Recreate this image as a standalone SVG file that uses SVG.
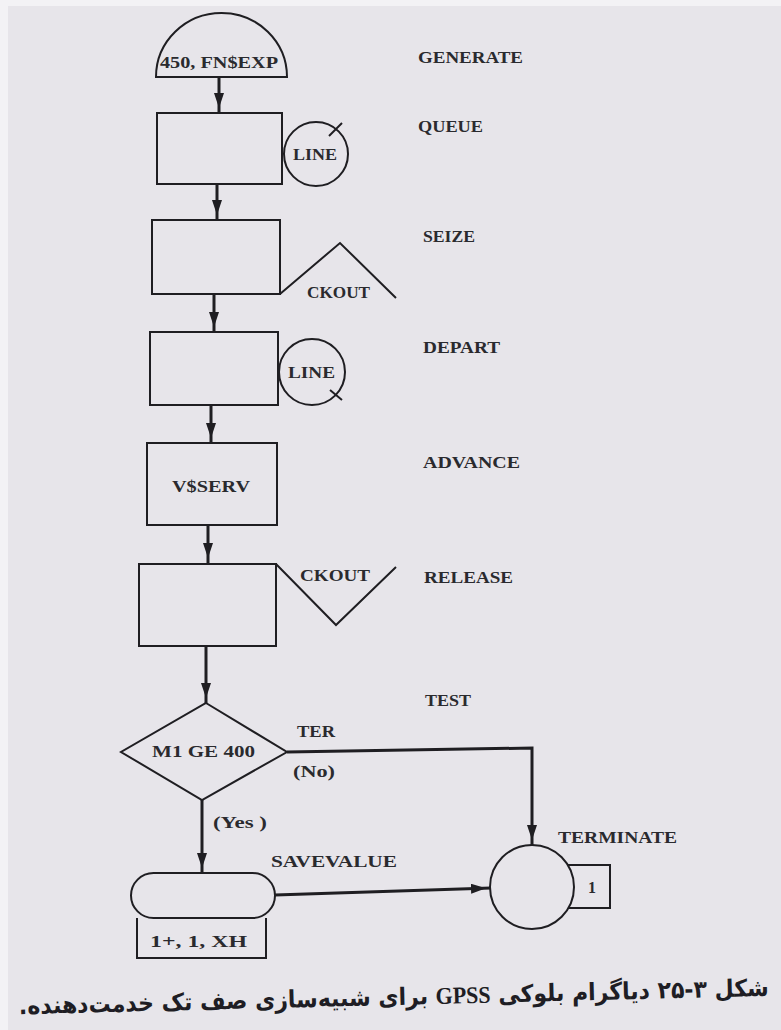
<svg xmlns="http://www.w3.org/2000/svg" width="781" height="1030" viewBox="0 0 781 1030">
<defs>
<style>
.sh{fill:none;stroke:#1f1e22;stroke-width:2}
.cn{fill:none;stroke:#1f1e22;stroke-width:3}
.lb{font-family:"Liberation Serif",serif;font-weight:bold;font-size:17px;fill:#2a2a2e}
.in{font-family:"Liberation Serif",serif;font-weight:bold;font-size:16px;fill:#2a2a2e}
.cap{font-family:"DejaVu Sans",sans-serif;font-weight:bold;font-size:24px;fill:#1e1d24}
</style>
<marker id="ah" markerUnits="userSpaceOnUse" markerWidth="24" markerHeight="12" refX="20" refY="5" orient="auto">
<path d="M0,0 L15,5 L0,10 z" fill="#1f1e22"/>
</marker>
</defs>
<rect x="0" y="0" width="781" height="1030" fill="#f3f2f5"/>
<rect x="8" y="6" width="773" height="1024" fill="#e7e5ea"/>

<g id="connectors">
<path class="cn" d="M219,77 V113" marker-end="url(#ah)"/>
<path class="cn" d="M217,184 V220" marker-end="url(#ah)"/>
<path class="cn" d="M214,294 V332" marker-end="url(#ah)"/>
<path class="cn" d="M211,405 V443" marker-end="url(#ah)"/>
<path class="cn" d="M208,525 V563" marker-end="url(#ah)"/>
<path class="cn" d="M206,646 V703" marker-end="url(#ah)"/>
<path class="cn" d="M287,752 L532,748 V845" marker-end="url(#ah)"/>
<path class="cn" d="M202,800 V873" marker-end="url(#ah)"/>
<path class="cn" d="M275,895 L491,888" marker-end="url(#ah)"/>
<text class="lb" x="297" y="737" textLength="38" lengthAdjust="spacingAndGlyphs">TER</text>
<text class="lb" x="293" y="777" textLength="42" lengthAdjust="spacingAndGlyphs">(No)</text>
<text class="lb" x="213" y="828" textLength="54" lengthAdjust="spacingAndGlyphs">(Yes )</text>
</g>

<g id="generate">
<path class="sh" d="M156,77 A65.5,64 0 0 1 287,77 Z"/>
<text class="in" x="160" y="68" textLength="118" lengthAdjust="spacingAndGlyphs">450, FN$EXP</text>
<text class="lb" x="418" y="63" textLength="105" lengthAdjust="spacingAndGlyphs">GENERATE</text>
</g>

<g id="queue">
<rect class="sh" x="157" y="113" width="125" height="71"/>
<circle class="sh" cx="316" cy="154" r="32"/>
<path class="sh" d="M329,136 L342,123"/>
<text class="in" x="293" y="160" textLength="44" lengthAdjust="spacingAndGlyphs">LINE</text>
<text class="lb" x="418" y="132" textLength="65" lengthAdjust="spacingAndGlyphs">QUEUE</text>
</g>

<g id="seize">
<rect class="sh" x="152" y="220" width="128" height="74"/>
<path class="sh" d="M280,294 L340,243 L396,298"/>
<text class="in" x="307" y="298" textLength="63" lengthAdjust="spacingAndGlyphs">CKOUT</text>
<text class="lb" x="423" y="242" textLength="52" lengthAdjust="spacingAndGlyphs">SEIZE</text>
</g>

<g id="depart">
<rect class="sh" x="150" y="332" width="128" height="73"/>
<circle class="sh" cx="312" cy="372" r="33"/>
<path class="sh" d="M330,390 L342,400"/>
<text class="in" x="288" y="378" textLength="47" lengthAdjust="spacingAndGlyphs">LINE</text>
<text class="lb" x="423" y="353" textLength="77" lengthAdjust="spacingAndGlyphs">DEPART</text>
</g>

<g id="advance">
<rect class="sh" x="147" y="443" width="130" height="82"/>
<text class="in" x="172" y="492" textLength="78" lengthAdjust="spacingAndGlyphs">V$SERV</text>
<text class="lb" x="423" y="468" textLength="97" lengthAdjust="spacingAndGlyphs">ADVANCE</text>
</g>

<g id="release">
<rect class="sh" x="139" y="564" width="137" height="82"/>
<path class="sh" d="M276,564 L336,625 L396,567"/>
<text class="in" x="300" y="581" textLength="70" lengthAdjust="spacingAndGlyphs">CKOUT</text>
<text class="lb" x="424" y="583" textLength="89" lengthAdjust="spacingAndGlyphs">RELEASE</text>
</g>

<g id="test">
<path class="sh" d="M206,703 L287,752 L202,800 L121,752 Z"/>
<text class="in" x="152" y="757" textLength="103" lengthAdjust="spacingAndGlyphs">M1 GE 400</text>
<text class="lb" x="425" y="706" textLength="46" lengthAdjust="spacingAndGlyphs">TEST</text>
</g>

<g id="savevalue">
<rect class="sh" x="131" y="873" width="144" height="45" rx="22.5"/>
<path class="sh" d="M137,918 V958 H266 V918"/>
<text class="in" x="150" y="947" textLength="97" lengthAdjust="spacingAndGlyphs">1+, 1, XH</text>
<text class="lb" x="271" y="867" textLength="126" lengthAdjust="spacingAndGlyphs">SAVEVALUE</text>
</g>

<g id="terminate">
<circle class="sh" cx="532" cy="887" r="42"/>
<path class="sh" d="M568,865 H610 V908 H568"/>
<text class="in" x="592" y="893" text-anchor="middle">1</text>
<text class="lb" x="558" y="843" textLength="119" lengthAdjust="spacingAndGlyphs">TERMINATE</text>
</g>

<g id="caption" transform="rotate(-1.4 394 1005)">
<text class="cap" x="394" y="1005" text-anchor="middle" direction="rtl" textLength="750" lengthAdjust="spacingAndGlyphs">شکل ۳-۲۵  دیاگرام بلوکی <tspan font-family="Liberation Serif, serif">GPSS</tspan> برای شبیه‌سازی صف تک خدمت‌دهنده.</text>
</g>
</svg>
